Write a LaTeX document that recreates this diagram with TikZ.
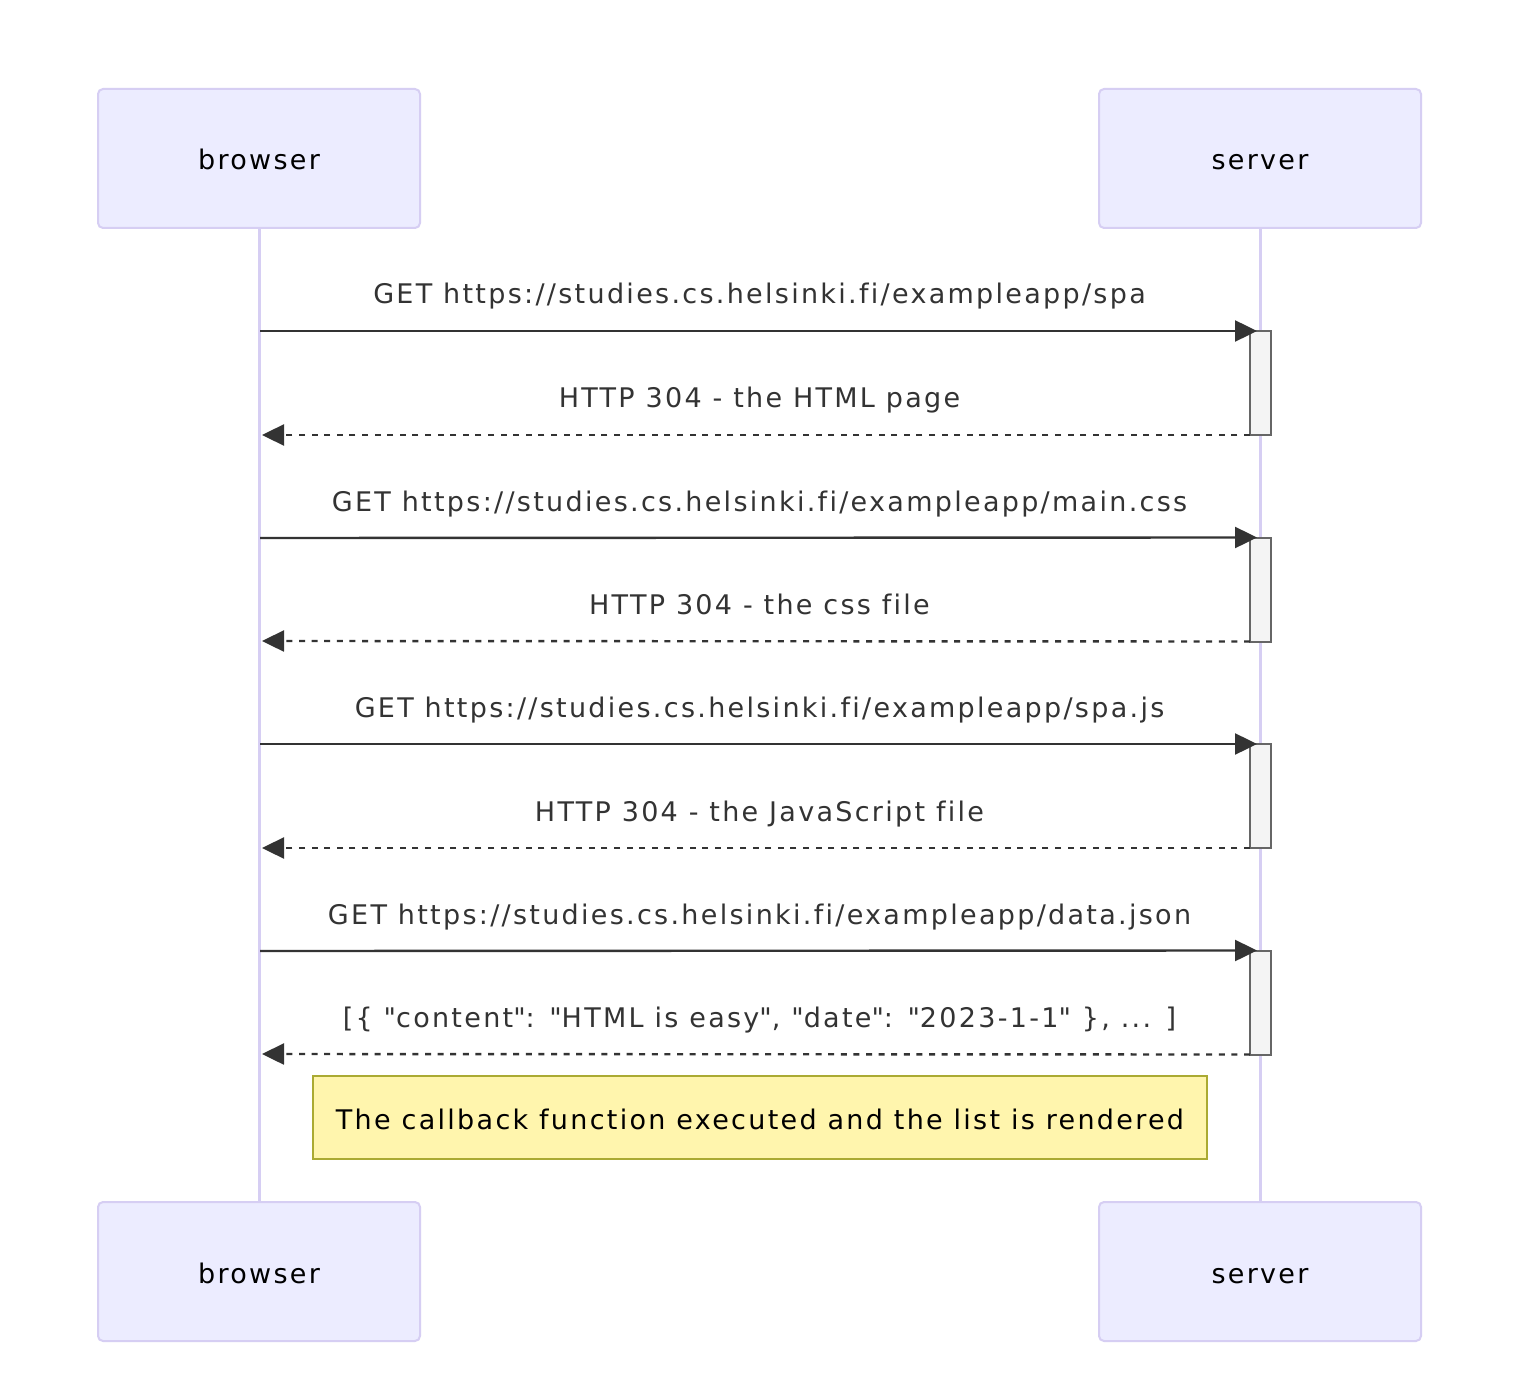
\documentclass[tikz,border=0pt]{standalone}
\usepackage{fontspec}
\setmainfont{DejaVu Sans}[LetterSpace=8.5,Ligatures=NoCommon]
\usepackage{tikz}
\usetikzlibrary{arrows.meta,positioning}

\definecolor{actorfill}{HTML}{ECECFF}
\definecolor{actorline}{HTML}{D6CEF3}
\definecolor{sigcolor}{HTML}{333333}
\definecolor{actfill}{HTML}{F4F4F4}
\definecolor{actline}{HTML}{666666}
\definecolor{notefill}{HTML}{FFF5AD}
\definecolor{noteline}{HTML}{AAAA33}

\begin{document}
\begin{tikzpicture}[x=0.5pt,y=-0.5pt]

\tikzset{actor/.style={draw=actorline, fill=actorfill, line width=1pt, rounded corners=2.5pt,
                       minimum width=161pt, minimum height=69.5pt, inner sep=0pt,
                       text height=12pt, text depth=0.5pt,
                       font=\fontsize{13.5}{16}\selectfont},
         lifeline/.style={draw=actorline, line width=1.5pt},
         activation/.style={draw=actline, fill=actfill, line width=1pt, outer sep=0pt,
                            minimum width=10.5pt, minimum height=52pt, inner sep=0pt},
         msg/.style={draw=sigcolor, line width=1.2pt, -{Triangle[length=11pt,width=10.5pt]}},
         reply/.style={msg, dash pattern=on 3pt off 3.3pt},
         msglabel/.style={anchor=base, text=sigcolor, inner sep=0pt,
                          font=\fontsize{13.5}{16}\selectfont},
         note/.style={draw=noteline, fill=notefill, line width=1pt,
                      minimum width=447pt, minimum height=41.5pt, inner sep=0pt,
                      text height=12pt, text depth=0.5pt,
                      font=\fontsize{13.5}{16}\selectfont}}

\useasboundingbox[fill=white] (0,0) rectangle (1534,1400);

% actors
\node[actor] (browser) at (259,158.5) {browser};
\node[actor] (server) at (1260,158.5) {server};
\node[actor] (browserB) at (259,1271.5) {browser};
\node[actor] (serverB) at (1260,1271.5) {server};

% lifelines
\draw[lifeline] (browser.south) -- (browserB.north);
\draw[lifeline] (server.south) -- (serverB.north);

% activations
\node[activation] (act1) at (1260.5,383) {};
\node[activation] (act2) at (1260.5,589.5) {};
\node[activation] (act3) at (1260.5,796) {};
\node[activation] (act4) at (1260.5,1002.5) {};

% points on the browser lifeline
\coordinate (req1) at (260,331);
\coordinate (res1) at (262,435);
\coordinate (req2) at (260,538);
\coordinate (res2) at (262,641);
\coordinate (req3) at (260,744);
\coordinate (res3) at (262,848);
\coordinate (req4) at (260,951);
\coordinate (res4) at (262,1054);

% messages
\draw[msg, shorten >=-3.5pt] (req1) -- (act1.north west);
\node[msglabel] (lreq1) at (759.5,304) {GET https://studies.cs.helsinki.fi/exampleapp/spa};
\draw[reply] (act1.south west) -- (res1);
\node[msglabel] (lres1) at (759.5,408) {HTTP 304 - the HTML page};

\draw[msg, shorten >=-3.5pt] (req2) -- (act2.north west);
\node[msglabel] (lreq2) at (759.5,511) {GET https://studies.cs.helsinki.fi/exampleapp/main.css};
\draw[reply] (act2.south west) -- (res2);
\node[msglabel] (lres2) at (759.5,614) {HTTP 304 - the css file};

\draw[msg, shorten >=-3.5pt] (req3) -- (act3.north west);
\node[msglabel] (lreq3) at (759.5,717) {GET https://studies.cs.helsinki.fi/exampleapp/spa.js};
\draw[reply] (act3.south west) -- (res3);
\node[msglabel] (lres3) at (759.5,821) {HTTP 304 - the JavaScript file};

\draw[msg, shorten >=-3.5pt] (req4) -- (act4.north west);
\node[msglabel] (lreq4) at (759.5,924) {GET https://studies.cs.helsinki.fi/exampleapp/data.json};
\draw[reply] (act4.south west) -- (res4);
\node[msglabel] (lres4) at (759.5,1027) {[\{ \textquotedbl content\textquotedbl: \textquotedbl HTML is easy\textquotedbl, \textquotedbl date\textquotedbl: \textquotedbl 2023-1-1\textquotedbl{} \}, ... ]};

% note
\node[note] (callback) at (760,1117.5) {The callback function executed and the list is rendered};

\end{tikzpicture}
\end{document}
